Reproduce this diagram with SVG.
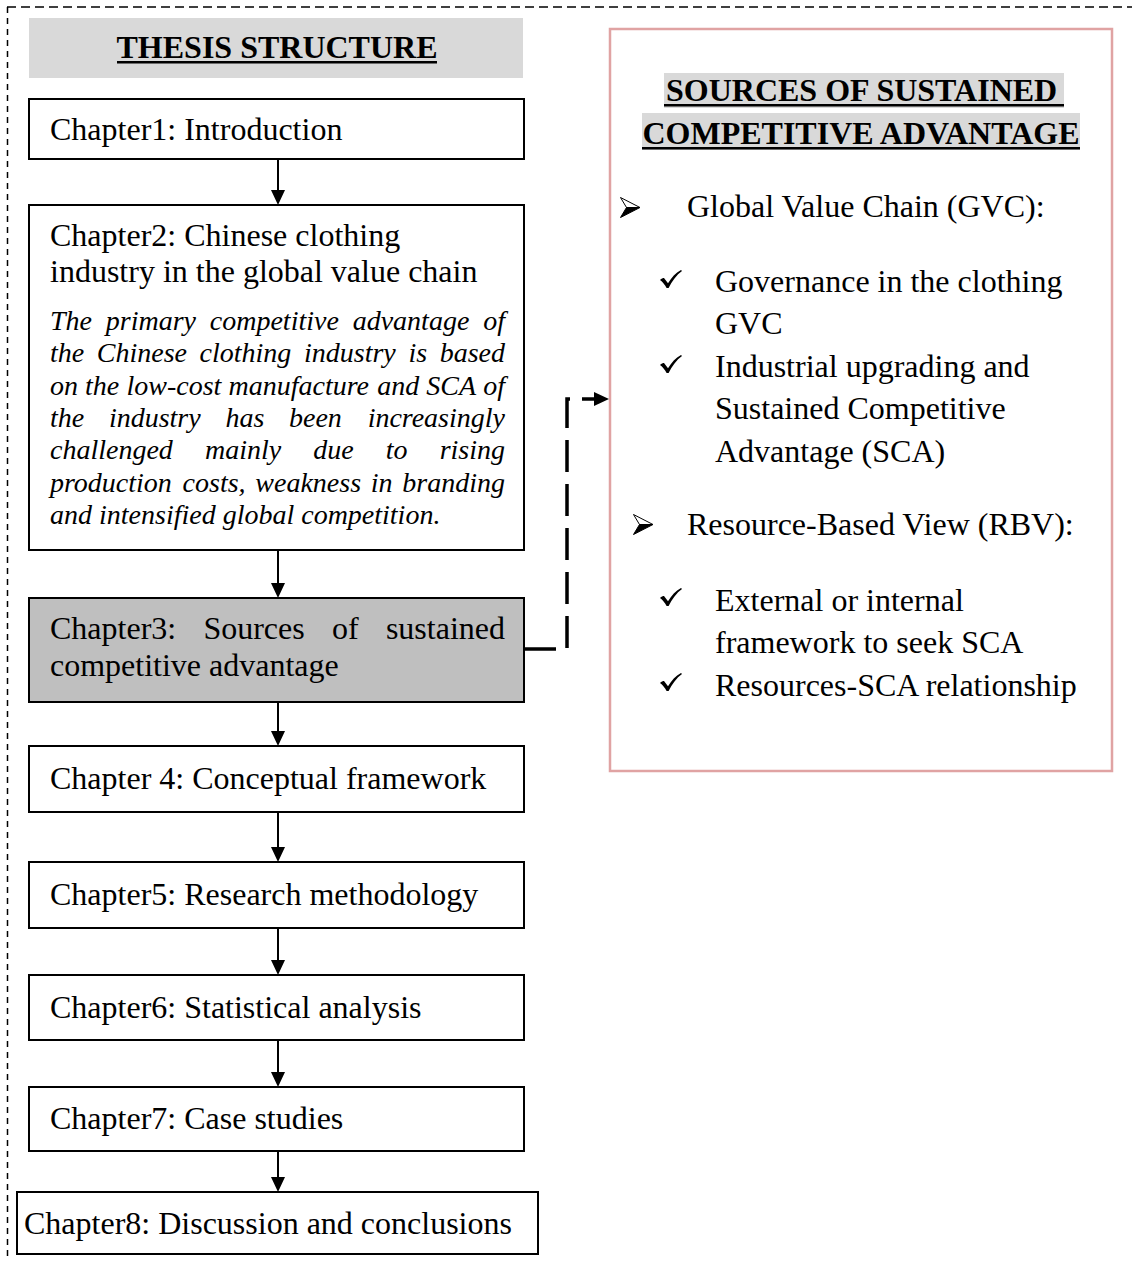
<svg xmlns="http://www.w3.org/2000/svg" width="1132" height="1261" viewBox="0 0 1132 1261">
  <style>
    .serif { font-family: "Liberation Serif", "Times New Roman", serif; fill: #000; }
    .ch { font-size: 32px; }
    .para { font-size: 28px; font-style: italic; }
    .head { font-size: 32px; font-weight: bold; }
    .box { fill: #fff; stroke: #000; stroke-width: 2; }
    .hl { fill: #d9d9d9; }
    .uline { fill: #000; }
    .flow { stroke: #000; stroke-width: 2; fill: none; }
  </style>
  <defs>
    <marker id="arrowhead" markerUnits="userSpaceOnUse" markerWidth="15" markerHeight="14" viewBox="0 0 15 14" refX="0" refY="7" orient="auto">
      <path d="M0,0 L15,7 L0,14 z" fill="#000"/>
    </marker>
    <!-- bullet: shaded arrowhead -->
    <g id="bullet-arrow">
      <path d="M0.5,0.5 L20,10.5 L6.5,10.5 Z" fill="#fff" stroke="#000" stroke-width="1" stroke-linejoin="round"/>
      <path d="M6.5,10.5 L20,10.5 L0.5,20.5 Z" fill="#000" stroke="#000" stroke-width="1" stroke-linejoin="round"/>
    </g>
    <!-- bullet: check mark -->
    <path id="bullet-check" d="M0,10 C1.5,8.6 2.8,8 4,8 L8,13.2 C11.5,7.5 15.5,3 21,0 L22,1 C16.5,5 12,11 8.6,18 L6.6,18 C4.8,14.6 2.6,12 0,10 Z" fill="#000"/>
  </defs>

  <rect width="1132" height="1261" fill="#fff"/>

  <!-- outer dashed frame -->
  <g id="frame" stroke="#000" stroke-width="1.5" fill="none">
    <line x1="7" y1="7" x2="1132" y2="7" stroke-dasharray="9 5"/>
    <line x1="7.5" y1="7" x2="7.5" y2="1261" stroke-dasharray="6 5"/>
  </g>

  <!-- title -->
  <g id="title">
    <rect class="hl" x="29" y="18" width="494" height="60"/>
    <text class="serif head" x="277" y="58" text-anchor="middle">THESIS STRUCTURE</text>
    <rect class="uline" x="117" y="61" width="320" height="2.5"/>
  </g>

  <g id="ch1">
    <rect class="box" x="29" y="99" width="495" height="60"/>
    <text class="serif ch" x="50" y="140">Chapter1: Introduction</text>
  </g>

  <g id="ch2">
    <rect class="box" x="29" y="205" width="495" height="345"/>
    <text class="serif ch" x="50" y="246">Chapter2: Chinese clothing</text>
    <text class="serif ch" x="50" y="282">industry in the global value chain</text>
    <text class="serif para" y="330">
      <tspan x="50">The</tspan><tspan x="105.8">primary</tspan><tspan x="209.8">competitive</tspan><tspan x="352.7">advantage</tspan>
    </text>
    <text class="serif para" x="505" y="330" text-anchor="end">of</text>
    <text class="serif para" y="362.3">
      <tspan x="50">the</tspan><tspan x="96.8">Chinese</tspan><tspan x="199.6">clothing</tspan><tspan x="304">industry</tspan><tspan x="408.4">is</tspan>
    </text>
    <text class="serif para" x="505" y="362.3" text-anchor="end">based</text>
    <text class="serif para" y="394.6">
      <tspan x="50">on</tspan><tspan x="85.1">the</tspan><tspan x="126.5">low-cost</tspan><tspan x="228.5">manufacture</tspan><tspan x="377.2">and</tspan><tspan x="426.3">SCA</tspan>
    </text>
    <text class="serif para" x="505" y="394.6" text-anchor="end">of</text>
    <text class="serif para" y="426.9">
      <tspan x="50">the</tspan><tspan x="108.9">industry</tspan><tspan x="225.4">has</tspan><tspan x="289">been</tspan>
    </text>
    <text class="serif para" x="505" y="426.9" text-anchor="end">increasingly</text>
    <text class="serif para" y="459.2">
      <tspan x="50">challenged</tspan><tspan x="205">mainly</tspan><tspan x="313.3">due</tspan><tspan x="385.8">to</tspan>
    </text>
    <text class="serif para" x="505" y="459.2" text-anchor="end">rising</text>
    <text class="serif para" y="491.5">
      <tspan x="50">production</tspan><tspan x="182.6">costs,</tspan><tspan x="255.3">weakness</tspan><tspan x="370.8">in</tspan>
    </text>
    <text class="serif para" x="505" y="491.5" text-anchor="end">branding</text>
    <text class="serif para" x="50" y="523.8">and intensified global competition.</text>
  </g>

  <g id="ch3">
    <rect x="29" y="598" width="495" height="104" fill="#bfbfbf" stroke="#000" stroke-width="2"/>
    <text class="serif ch" y="639">
      <tspan x="50">Chapter3:</tspan><tspan x="203.4">Sources</tspan><tspan x="331.9">of</tspan>
    </text>
    <text class="serif ch" x="505" y="639" text-anchor="end">sustained</text>
    <text class="serif ch" x="50" y="676">competitive advantage</text>
  </g>

  <g id="ch4">
    <rect class="box" x="29" y="746" width="495" height="66"/>
    <text class="serif ch" x="50" y="789">Chapter 4: Conceptual framework</text>
  </g>

  <g id="ch5">
    <rect class="box" x="29" y="862" width="495" height="66"/>
    <text class="serif ch" x="50" y="905">Chapter5: Research methodology</text>
  </g>

  <g id="ch6">
    <rect class="box" x="29" y="975" width="495" height="65"/>
    <text class="serif ch" x="50" y="1018">Chapter6: Statistical analysis</text>
  </g>

  <g id="ch7">
    <rect class="box" x="29" y="1087" width="495" height="64"/>
    <text class="serif ch" x="50" y="1129">Chapter7: Case studies</text>
  </g>

  <g id="ch8">
    <rect class="box" x="17" y="1192" width="521" height="62"/>
    <text class="serif ch" x="24" y="1234">Chapter8: Discussion and conclusions</text>
  </g>

  <!-- sources of sustained competitive advantage panel -->
  <g id="sources">
    <rect x="610" y="29" width="502" height="742" fill="none" stroke="#e0a3a3" stroke-width="2.5"/>
    <rect class="hl" x="664" y="73" width="400" height="35"/>
    <rect class="hl" x="642" y="113" width="438" height="37"/>
    <text class="serif head" x="666" y="101">SOURCES OF SUSTAINED</text>
    <rect class="uline" x="664" y="104" width="400" height="2.5"/>
    <text class="serif head" x="861" y="144" text-anchor="middle" textLength="437" lengthAdjust="spacingAndGlyphs">COMPETITIVE ADVANTAGE</text>
    <rect class="uline" x="642" y="147" width="438" height="2.5"/>

    <use href="#bullet-arrow" x="620" y="197"/>
    <text class="serif ch" x="687" y="217">Global Value Chain (GVC):</text>

    <use href="#bullet-check" x="660" y="270"/>
    <text class="serif ch" x="715" y="292">Governance in the clothing</text>
    <text class="serif ch" x="715" y="334">GVC</text>
    <use href="#bullet-check" x="660" y="355"/>
    <text class="serif ch" x="715" y="377">Industrial upgrading and</text>
    <text class="serif ch" x="715" y="419">Sustained Competitive</text>
    <text class="serif ch" x="715" y="462">Advantage (SCA)</text>

    <use href="#bullet-arrow" x="633" y="514"/>
    <text class="serif ch" x="687" y="535">Resource-Based View (RBV):</text>

    <use href="#bullet-check" x="660" y="588"/>
    <text class="serif ch" x="715" y="611">External or internal</text>
    <text class="serif ch" x="715" y="653">framework to seek SCA</text>
    <use href="#bullet-check" x="660" y="673"/>
    <text class="serif ch" x="715" y="696">Resources-SCA relationship</text>
  </g>

  <!-- connectors -->
  <g id="connectors">
    <line class="flow" x1="278" y1="159" x2="278" y2="190" marker-end="url(#arrowhead)"/>
    <line class="flow" x1="278" y1="550" x2="278" y2="583" marker-end="url(#arrowhead)"/>
    <line class="flow" x1="278" y1="702" x2="278" y2="731" marker-end="url(#arrowhead)"/>
    <line class="flow" x1="278" y1="812" x2="278" y2="847" marker-end="url(#arrowhead)"/>
    <line class="flow" x1="278" y1="928" x2="278" y2="960" marker-end="url(#arrowhead)"/>
    <line class="flow" x1="278" y1="1040" x2="278" y2="1072" marker-end="url(#arrowhead)"/>
    <line class="flow" x1="278" y1="1151" x2="278" y2="1177" marker-end="url(#arrowhead)"/>
    <path d="M524,649 H567 V399 H594" fill="none" stroke="#000" stroke-width="3.5" stroke-dasharray="32 12" marker-end="url(#arrowhead)"/>
  </g>
</svg>
